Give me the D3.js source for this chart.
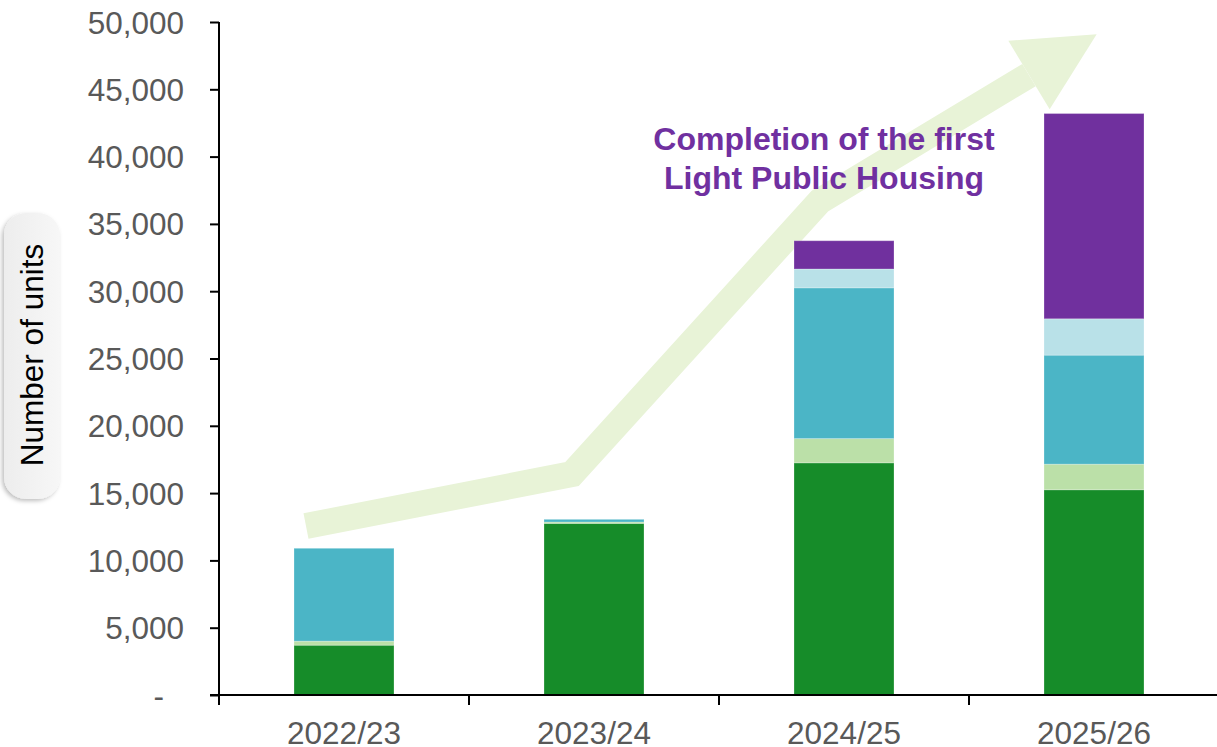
<!DOCTYPE html>
<html>
<head>
<meta charset="utf-8">
<script src="https://cdn.jsdelivr.net/npm/d3@7"></script>
<style>
  html, body { margin: 0; padding: 0; background: #fff; }
  svg { display: block; font-family: "Liberation Sans", Arial, sans-serif; }
</style>
</head>
<body>
<svg id="chart" width="1217" height="747"></svg>
<script>
// Housing supply by year, units per stacked component
const categories = ["2022/23", "2023/24", "2024/25", "2025/26"];
const publicRental    = [3700, 12750, 17250, 15250];
const greenForm       = [300, 100, 1800, 1900];
const homeOwnership   = [6900, 200, 11200, 8100];
const otherSubsidised = [0, 0, 1400, 2700];
const lightPublic     = [0, 0, 2100, 15250];
const seriesNames = ["publicRental", "greenForm", "homeOwnership", "otherSubsidised", "lightPublic"];
const seriesValues = [publicRental, greenForm, homeOwnership, otherSubsidised, lightPublic];
const yTicks = [0, 5000, 10000, 15000, 20000, 25000, 30000, 35000, 40000, 45000, 50000];

// Trend arrow path: [offset in categories from the first bar, units]
const trendArrow = [[-0.152, 12550], [0.912, 16420], [1.904, 36700], [2.74, 46060]];
const annotationLines = ["Completion of the first", "Light Public Housing"];

const colors = {
  publicRental: "#168C29",
  greenForm: "#BBE0A8",
  homeOwnership: "#4BB5C6",
  otherSubsidised: "#B9E1E8",
  lightPublic: "#70309E"
};

const svg = d3.select("#chart");
const plotLeft = 219, plotRight = 1219, plotTop = 22, plotBottom = 695;

const x = d3.scaleBand().domain(categories).range([plotLeft, plotRight])
  .paddingInner(0.6).paddingOuter(0.3);
const y = d3.scaleLinear().domain([0, 50000]).range([plotBottom, plotTop]);

// Stacked data
const table = categories.map((c, i) => {
  const row = { category: c };
  seriesNames.forEach((s, k) => row[s] = seriesValues[k][i]);
  return row;
});
const stacked = d3.stack().keys(seriesNames)(table);

// Trend arrow (drawn behind the bars)
const step = x.step();
const firstCenter = x(categories[0]) + x.bandwidth() / 2;
const pts = trendArrow.map(([o, v]) => [firstCenter + o * step, y(v)]);
const arrowColor = "#E8F3D7";
svg.append("path")
  .attr("d", d3.line()(pts))
  .attr("fill", "none")
  .attr("stroke", arrowColor)
  .attr("stroke-width", 26)
  .attr("stroke-linejoin", "miter")
  .attr("stroke-linecap", "butt");
{
  const [ax, ay] = pts[pts.length - 2];
  const [bx, by] = pts[pts.length - 1];
  const len = Math.hypot(bx - ax, by - ay);
  const ux = (bx - ax) / len, uy = (by - ay) / len;
  const nx = -uy, ny = ux;
  const headLen = 79, halfW = 40;
  const head = [
    [bx + nx * halfW, by + ny * halfW],
    [bx + ux * headLen, by + uy * headLen],
    [bx - nx * halfW, by - ny * halfW]
  ];
  svg.append("polygon")
    .attr("points", head.map(p => p.join(",")).join(" "))
    .attr("fill", arrowColor);
}

// Bars
svg.append("g").selectAll("g")
  .data(stacked)
  .join("g")
  .attr("fill", d => colors[d.key])
  .selectAll("rect")
  .data(d => d.filter(s => s[1] - s[0] > 0))
  .join("rect")
  .attr("x", d => x(d.data.category))
  .attr("width", x.bandwidth())
  .attr("y", d => y(d[1]))
  .attr("height", d => y(d[0]) - y(d[1]))
  .attr("stroke", "rgba(255,255,255,0.25)")
  .attr("stroke-width", 1);

// Y axis
const fmt = d3.format(",");
const yAxis = svg.append("g")
  .attr("transform", `translate(${plotLeft},0)`)
  .call(d3.axisLeft(y).tickValues(yTicks).tickSize(9).tickPadding(26)
    .tickFormat(d => d === 0 ? "-" : fmt(d)));
yAxis.select(".domain").attr("stroke", "#000").attr("stroke-width", 2)
  .attr("d", `M0,${plotTop}V${plotBottom + 10}`);
yAxis.selectAll(".tick line").attr("stroke", "#000").attr("stroke-width", 2);
yAxis.selectAll(".tick text")
  .attr("fill", "#595959")
  .style("font-size", "31.5px")
  .attr("dy", "0.35em")
  .attr("dx", d => d === 0 ? -20 : 0);

// X axis with ticks between categories
const xAxis = svg.append("g");
xAxis.append("line")
  .attr("x1", plotLeft - 9).attr("x2", 1217)
  .attr("y1", plotBottom).attr("y2", plotBottom)
  .attr("stroke", "#000").attr("stroke-width", 2);
const boundaries = categories.map(c => x(c) - (step - x.bandwidth()) / 2)
  .concat([x(categories[categories.length - 1]) + x.bandwidth() + (step - x.bandwidth()) / 2]);
xAxis.selectAll(".xtick")
  .data(boundaries)
  .join("line")
  .attr("class", "xtick")
  .attr("x1", d => d).attr("x2", d => d)
  .attr("y1", plotBottom).attr("y2", plotBottom + 10)
  .attr("stroke", "#000").attr("stroke-width", 2);
xAxis.selectAll(".xlabel")
  .data(categories)
  .join("text")
  .attr("class", "xlabel")
  .attr("x", d => x(d) + x.bandwidth() / 2)
  .attr("y", 744)
  .attr("text-anchor", "middle")
  .attr("fill", "#595959")
  .style("font-size", "31.5px")
  .text(d => d);

// Y axis title in a rounded box
const defs = svg.append("defs");
const grad = defs.append("linearGradient").attr("id", "boxFill")
  .attr("x1", 0).attr("x2", 1).attr("y1", 0).attr("y2", 0);
grad.append("stop").attr("offset", "0%").attr("stop-color", "#EDEDED");
grad.append("stop").attr("offset", "100%").attr("stop-color", "#F7F7F7");
const shadow = defs.append("filter").attr("id", "boxShadow")
  .attr("x", "-30%").attr("y", "-10%").attr("width", "160%").attr("height", "120%");
shadow.append("feDropShadow").attr("dx", -2).attr("dy", 2)
  .attr("stdDeviation", 2).attr("flood-color", "#000").attr("flood-opacity", 0.25);

svg.append("rect")
  .attr("x", 4).attr("y", 213).attr("width", 56).attr("height", 286)
  .attr("rx", 22).attr("ry", 22)
  .attr("fill", "url(#boxFill)")
  .attr("filter", "url(#boxShadow)");
svg.append("text")
  .attr("transform", "translate(43,355) rotate(-90)")
  .attr("text-anchor", "middle")
  .attr("fill", "#000")
  .style("font-size", "31.5px")
  .text("Number of units");

// Annotation
const note = svg.append("text")
  .attr("text-anchor", "middle")
  .attr("fill", "#7030A0")
  .style("font-size", "32px")
  .style("font-weight", "bold");
annotationLines.forEach((line, i) => {
  note.append("tspan").attr("x", 824).attr("y", 150 + i * 39).text(line);
});
</script>
</body>
</html>
